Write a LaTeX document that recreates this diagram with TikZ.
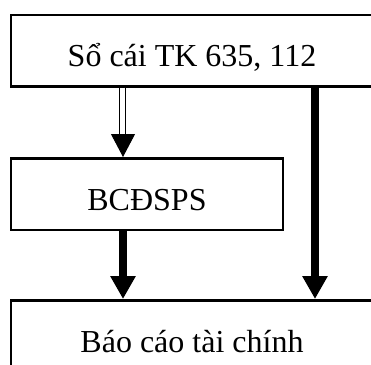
\documentclass[tikz,border=0pt]{standalone}
\usepackage{fontspec}
\setmainfont{Liberation Serif}
\usetikzlibrary{arrows.meta}

\begin{document}
\begin{tikzpicture}[
     x = 0.5pt, y = -0.5pt, % one unit is one pixel, y runs downwards
     line width = 1.25pt, % frame line style
     font = \fontsize{16}{19}\selectfont
 ]

 \tikzstyle{ledger} = [
     draw = black,
     rectangle,
     inner sep = 0pt,
     minimum height = 35.75pt,
     text height = 16pt, % baseline sits low in the box
     text depth = 0pt
 ]
 \tikzstyle{bold arrow} = [
     line width = 3.75pt,
     -{Triangle[width=12pt, length=11.5pt]}
 ]
 \tikzstyle{double shaft} = [
     double,
     line width = 0.5pt,
     double distance = 2.5pt,
     shorten > = 11pt
 ]
 \tikzstyle{thin head} = [
     line width = 0.5pt,
     shorten < = 24pt,
     -{Triangle[width=12pt, length=11.5pt]}
 ]

 \useasboundingbox (0,0) rectangle (371,365);
 \clip (0,0) rectangle (371,365);

 % columns of the arrows
 \coordinate (lcol) at (123,0);
 \coordinate (rcol) at (315,0);

 \node[ledger, minimum width = 181pt] (socai) at (192,50.5) {Sổ cái TK 635, 112};
 \node[ledger, minimum width = 136pt] (bcd) at (147,194) {BCĐSPS};
 \node[ledger, minimum width = 181pt] (bctc) at (192,336) {Báo cáo tài chính};

 \draw[double shaft] (socai.south -| lcol) -- (bcd.north -| lcol);
 \draw[thin head] (socai.south -| lcol) -- (bcd.north -| lcol);
 \draw[bold arrow] (bcd.south -| lcol) -- (bctc.north -| lcol);
 \draw[bold arrow] (socai.south -| rcol) -- (bctc.north -| rcol);
\end{tikzpicture}
\end{document}
